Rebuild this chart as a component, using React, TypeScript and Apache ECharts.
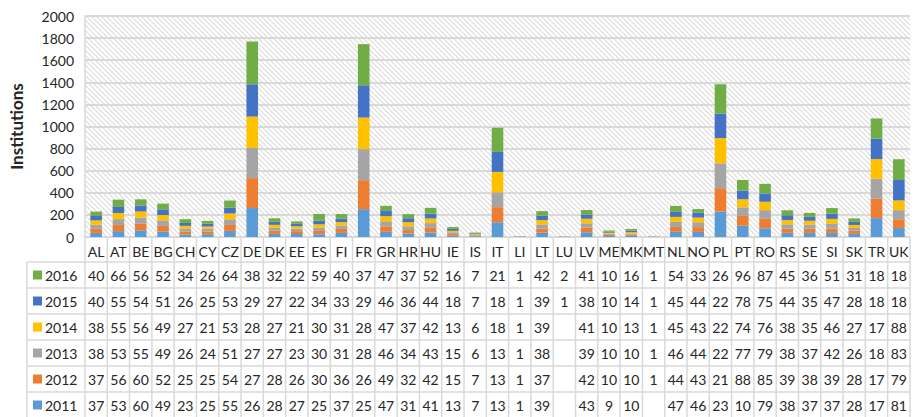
import React, { useEffect, useRef } from "react";
import * as echarts from "echarts";

const categories = ["AL","AT","BE","BG","CH","CY","CZ","DE","DK","EE","ES","FI","FR","GR","HR","HU","IE","IS","IT","LI","LT","LU","LV","ME","MK","MT","NL","NO","PL","PT","RO","RS","SE","SI","SK","TR","UK"];

const v2016 = [40,66,56,52,34,26,64,387,32,22,59,40,372,47,37,52,16,7,219,1,42,2,41,10,16,1,54,33,265,96,87,45,36,51,31,182,188];
const v2015 = [40,55,54,51,26,25,53,292,27,22,34,33,292,46,36,44,18,7,181,1,39,1,38,10,14,1,45,44,222,78,75,44,35,47,28,186,185];
const v2014 = [38,55,56,49,27,21,53,284,27,21,30,31,286,47,37,42,13,6,184,1,39,null,41,10,13,1,45,43,228,74,76,38,35,46,27,178,88];
const v2013 = [38,53,55,49,26,24,51,273,27,23,30,31,281,46,34,43,15,6,135,1,38,null,39,10,10,1,46,44,225,77,79,38,37,42,26,181,83];
const v2012 = [37,56,60,52,25,25,54,271,28,26,30,36,262,49,32,42,15,7,137,1,37,null,42,10,10,1,44,43,212,88,85,39,38,39,28,175,79];
const v2011 = [37,53,60,49,23,25,55,262,28,27,25,37,252,47,31,41,13,7,133,1,39,null,43,9,10,null,47,46,230,103,79,38,37,37,28,171,81];

// bottom-to-top stacking order
const years = ["2011","2012","2013","2014","2015","2016"];
const values = [v2011, v2012, v2013, v2014, v2015, v2016];
const colors = ["#5B9BD5","#ED7D31","#A5A5A5","#FFC000","#4472C4","#70AD47"];

const yTicks = { min: 0, max: 2000, interval: 200 };

const FONT = "Lato";
const TEXT = "#262626";
const BORDER = "#d9d9d9";

// the data table clips numbers wider than its cells
const cellText = (v: number | null) => (v == null ? "" : String(v).slice(0, 2));

export default function App() {
  const ref = useRef<HTMLDivElement>(null);

  useEffect(() => {
    const chart = echarts.init(ref.current!, null, { renderer: "svg" });

    const cv = document.createElement("canvas");
    cv.width = 5;
    cv.height = 5;
    const ctx = cv.getContext("2d")!;
    ctx.fillStyle = "#ffffff";
    ctx.fillRect(0, 0, 5, 5);
    ctx.strokeStyle = "#dadada";
    ctx.lineWidth = 1.1;
    for (const k of [-5, 0, 5]) {
      ctx.beginPath();
      ctx.moveTo(k - 1, -1);
      ctx.lineTo(k + 6, 6);
      ctx.stroke();
    }

    const LEFT = 83, TOP = 16, PW = 827, PH = 221;

    chart.setOption({
      animation: false,
      backgroundColor: "#ffffff",
      grid: {
        left: LEFT, top: TOP, width: PW, height: PH,
        show: true, borderWidth: 0,
        backgroundColor: { image: cv, repeat: "repeat" } as any,
      },
      xAxis: {
        type: "category",
        data: categories,
        axisLine: { show: true, lineStyle: { color: BORDER, width: 1.5 } },
        axisTick: { show: false },
        axisLabel: { interval: 0, margin: 7, fontSize: 14, fontFamily: FONT, color: TEXT },
      },
      yAxis: {
        type: "value",
        min: yTicks.min, max: yTicks.max, interval: yTicks.interval,
        name: "Institutions",
        nameLocation: "middle",
        nameRotate: 90,
        nameGap: 60,
        nameTextStyle: { fontSize: 17, fontWeight: "bold", fontFamily: FONT, color: TEXT },
        axisLine: { show: true, lineStyle: { color: BORDER, width: 1.5 } },
        axisTick: { show: false },
        axisLabel: { margin: 11, fontSize: 14, fontFamily: FONT, color: TEXT, formatter: (v: number) => String(v) },
        splitLine: { show: true, lineStyle: { color: BORDER, width: 2 } },
      },
      series: years.map((y, i) => ({
        name: y,
        type: "bar",
        stack: "total",
        barWidth: "52%",
        data: values[i],
        itemStyle: { color: colors[i] },
      })),
    });

    const colW = PW / categories.length;
    const xs = categories.map((c) => chart.convertToPixel({ xAxisIndex: 0 }, c) as number);
    const TL = 27, TT = TOP + PH + 25, RH = 26, BOTTOM = 417;
    const RIGHT = LEFT + PW;
    const els: any[] = [];
    const ln = (x1: number, y1: number, x2: number, y2: number) =>
      els.push({ type: "line", silent: true, shape: { x1, y1, x2, y2 }, style: { stroke: BORDER, lineWidth: 1.5 } });

    for (let r = 0; r <= 6; r++) ln(TL, TT + r * RH, RIGHT, TT + r * RH);
    ln(TL, TT, TL, BOTTOM);
    xs.forEach((x) => ln(x - colW / 2, TOP + PH, x - colW / 2, BOTTOM));
    ln(RIGHT, TOP + PH, RIGHT, BOTTOM);

    const rowOrder = [5, 4, 3, 2, 1, 0];
    rowOrder.forEach((si, r) => {
      const cy = TT + r * RH + RH / 2;
      els.push({ type: "rect", silent: true, shape: { x: 33, y: cy - 4.5, width: 9, height: 9 }, style: { fill: colors[si] } });
      els.push({
        type: "text", silent: true, x: 45, y: cy,
        style: { text: years[si], fill: TEXT, fontSize: 14, fontFamily: FONT, align: "left", textAlign: "left", verticalAlign: "middle", textVerticalAlign: "middle" },
      });
      values[si].forEach((v, ci) => {
        const t = cellText(v);
        if (!t) return;
        els.push({
          type: "text", silent: true, x: xs[ci], y: cy,
          style: { text: t, fill: TEXT, fontSize: 14, fontFamily: FONT, align: "center", textAlign: "center", verticalAlign: "middle", textVerticalAlign: "middle" },
        });
      });
    });

    chart.setOption({ graphic: { elements: els } });

    return () => chart.dispose();
  }, []);

  return <div ref={ref} style={{ position: "absolute", left: 0, top: 0, width: 919, height: 417 }} />;
}
